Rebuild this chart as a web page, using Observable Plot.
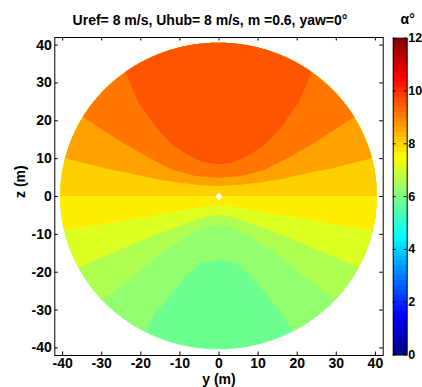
<!DOCTYPE html>
<html>
<head>
<meta charset="utf-8">
<script src="https://cdn.jsdelivr.net/npm/d3@7"></script>
<script src="https://cdn.jsdelivr.net/npm/@observablehq/plot@0.6"></script>
<style>
  html, body { margin: 0; padding: 0; background: white; }
  #chart { position: relative; width: 422px; height: 387px; overflow: hidden; }
  #chart svg { position: absolute; top: 0; }
</style>
</head>
<body>
<div id="chart"></div>
<script>
// ---- data ----
const titleText = "Uref= 8 m/s, Uhub= 8 m/s, m =0.6, yaw=0°";
const colorbarLabel = "α°";
const xLabel = "y (m)";
const yLabel = "z (m)";
const rotorRadius = 40.5;               // m
const hub = [{y: 0, z: 0}];
const yTicks = [-40, -30, -20, -10, 0, 10, 20, 30, 40];
const zTicks = [-40, -30, -20, -10, 0, 10, 20, 30, 40];
const alphaTicks = [0, 2, 4, 6, 8, 10, 12];
const alphaDomain = [0, 12];

// alpha (deg) of each filled band, from the bottom band to the top band
const bandAlpha = [5.8, 6.2, 6.55, 7.1, 7.7, 8.05, 8.6, 9.1, 9.5];

// band boundaries [y, z] in m (lower edge of band 1..8)
const boundaryL1 = [[-18.8,-35.6],[-16.2,-31.1],[-12,-25.8],[-7.7,-20.5],[-4.3,-17.7],[0,-16.9],[4.3,-17.7],[7.7,-20.5],[12,-25.8],[16.2,-31.1],[18.8,-35.6]];
const boundaryL2 = [[-29.4,-27.2],[-22,-21.3],[-15,-15.5],[-8,-10.6],[-4,-8.4],[0,-7.6],[4,-8.4],[8,-10.6],[15,-15.5],[22,-21.3],[29.4,-27.2]];
const boundaryL3 = [[-35.7,-18.9],[-30.3,-16.4],[-22,-12.8],[-15,-9.8],[-8,-7.2],[-3,-5.5],[0,-5.0],[3,-5.5],[8,-7.2],[15,-9.8],[22,-12.8],[30.3,-16.4],[35.7,-18.9]];
const boundaryL4 = [[-39.7,-9.1],[-30.3,-7.6],[-22,-6.1],[-15,-4.9],[-8,-3.6],[-3,-2.8],[0,-2.6],[3,-2.8],[8,-3.6],[15,-4.9],[22,-6.1],[30.3,-7.6],[39.7,-9.1]];
const boundaryL5 = [[-40.5,0],[40.5,0]];
const boundaryU1 = [[-39.3,10.0],[-29,7.3],[-23.5,6.2],[-16.2,4.5],[-10.7,3.6],[-5,2.9],[0,2.6],[5,2.9],[10.7,3.6],[16.2,4.5],[23.5,6.2],[29,7.3],[39.3,10.0]];
const boundaryU2 = [[-34.6,20.8],[-24.8,14.2],[-18,10.2],[-12,7.0],[-6,5.3],[0,4.8],[6,5.3],[12,7.0],[18,10.2],[24.8,14.2],[34.6,20.8]];
const boundaryU3 = [[-23.9,32.9],[-20.5,24.7],[-16.2,18.4],[-12,13.7],[-7.5,10.6],[-3.7,8.9],[0,8.4],[3.7,8.9],[7.5,10.6],[12,13.7],[16.2,18.4],[20.5,24.7],[23.9,32.9]];
const boundaries = [null, boundaryL1, boundaryL2, boundaryL3, boundaryL4, boundaryL5, boundaryU1, boundaryU2, boundaryU3];

// ---- colour scale (jet) ----
const jet = {
  type: "linear",
  domain: [0, 1.5, 4.5, 7.5, 10.5, 12],
  range: ["#000080", "#0000ff", "#00ffff", "#ffff00", "#ff0000", "#800000"],
  interpolate: "rgb"
};

// ---- build band regions (each band painted above its lower boundary, inside the disk) ----
function interpZ(pts, y) {
  let i;
  if (y <= pts[0][0]) i = 1;
  else if (y >= pts[pts.length - 1][0]) i = pts.length - 1;
  else { i = 1; while (pts[i][0] < y) i++; }
  const [y0, z0] = pts[i - 1], [y1, z1] = pts[i];
  return z0 + (z1 - z0) * (y - y0) / (y1 - y0);
}
const R = rotorRadius;
const ys = d3.range(-R, R, 0.1).concat([R]);
const bandData = boundaries.map((b, k) => ys.map(y => {
  const top = Math.sqrt(Math.max(0, R * R - y * y));
  let lo = -top;
  if (b) lo = Math.max(-top, Math.min(top, interpZ(b, y)));
  return {y, lo, hi: top, alpha: bandAlpha[k]};
}));

const font = {fontFamily: "'Liberation Sans', Arial, Helvetica, sans-serif", fontSize: "14px", fontWeight: "bold", color: "black", background: "white"};

// ---- main plot ----
const W = 385, H = 387, mL = 54.3, mR = 2.3, mT = 37, mB = 32;
const plotW = W - mL - mR, plotH = H - mT - mB;
const tickLen = 3.5;

const main = Plot.plot({
  width: W, height: H,
  marginLeft: mL, marginRight: mR, marginTop: mT, marginBottom: mB,
  x: {domain: [-42, 42]},
  y: {domain: [-42, 42]},
  color: jet,
  style: font,
  marks: [
    ...bandData.map(d => Plot.areaY(d, {x: "y", y1: "lo", y2: "hi", fill: "alpha", curve: "linear"})),
    Plot.dot(hub, {x: "y", y: "z", symbol: "square", r: 2.9, rotate: 45, fill: "white", stroke: null}),
    Plot.axisX(yTicks, {anchor: "bottom", tickSize: 0, tickPadding: 3, label: null, tickFormat: d => String(d)}),
    Plot.axisY(zTicks, {anchor: "left", tickSize: 0, tickPadding: 3, label: null, tickFormat: d => String(d)}),
    Plot.tickX(yTicks, {x: d => d, insetTop: plotH - tickLen, stroke: "black"}),
    Plot.tickX(yTicks, {x: d => d, insetBottom: plotH - tickLen, stroke: "black"}),
    Plot.tickY(zTicks, {y: d => d, insetRight: plotW - tickLen, stroke: "black"}),
    Plot.tickY(zTicks, {y: d => d, insetLeft: plotW - tickLen, stroke: "black"}),
    Plot.frame({stroke: "black"}),
    Plot.text([titleText], {frameAnchor: "top", dx: -9, dy: -13, lineAnchor: "bottom"}),
    Plot.text([xLabel], {frameAnchor: "bottom", dy: 28, lineAnchor: "bottom"}),
    Plot.text([yLabel], {frameAnchor: "left", dx: -29.8, dy: 1.5, rotate: -90, lineAnchor: "bottom"})
  ]
});
main.style.left = "0px";

// ---- colorbar ----
const CW = 37, cL = 7.7, cR = 15.3, cT = 37.7, cB = 32.5;
const barW = CW - cL - cR;
const nBins = 64;
const cbBins = d3.range(nBins).map(i => ({
  lo: alphaDomain[0] + (alphaDomain[1] - alphaDomain[0]) * i / nBins,
  hi: alphaDomain[0] + (alphaDomain[1] - alphaDomain[0]) * (i + 1) / nBins,
  mid: alphaDomain[0] + (alphaDomain[1] - alphaDomain[0]) * (i + 0.5) / nBins
}));
const cb = Plot.plot({
  width: CW, height: H,
  marginLeft: cL, marginRight: cR, marginTop: cT, marginBottom: cB,
  x: {domain: [0, 1], axis: null},
  y: {domain: alphaDomain},
  color: jet,
  style: font,
  marks: [
    Plot.rect(cbBins, {x1: 0, x2: 1, y1: "lo", y2: "hi", fill: "mid", shapeRendering: "crispEdges"}),
    Plot.axisY(alphaTicks, {anchor: "right", tickSize: 0, tickPadding: 1, label: null, fontSize: 12.5}),
    Plot.tickY(alphaTicks, {y: d => d, insetRight: barW - 3, stroke: "black"}),
    Plot.tickY(alphaTicks, {y: d => d, insetLeft: barW - 3, stroke: "black"}),
    Plot.frame({stroke: "black"}),
    Plot.text([colorbarLabel], {frameAnchor: "top", dx: 7.5, dy: -14, lineAnchor: "bottom"})
  ]
});
cb.style.left = W + "px";

document.getElementById("chart").append(main, cb);
</script>
</body>
</html>
